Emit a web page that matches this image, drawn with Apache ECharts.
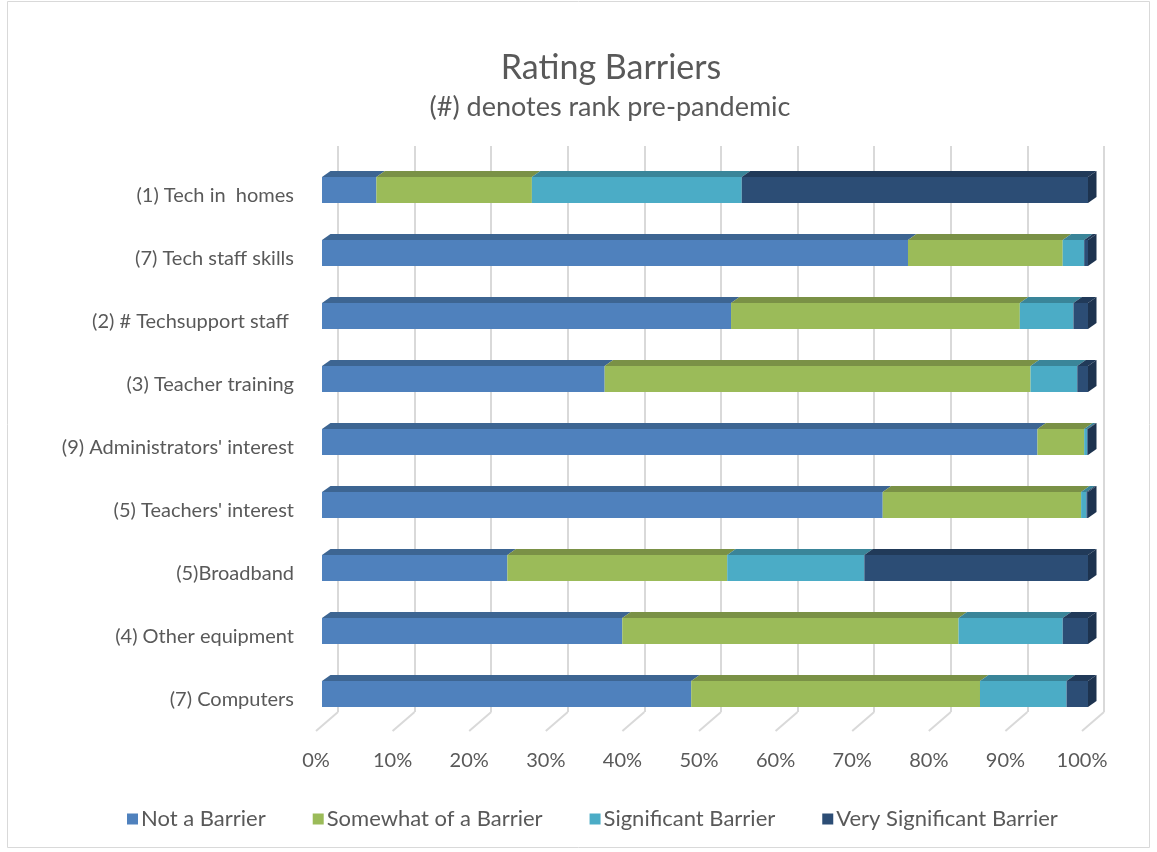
<!DOCTYPE html>
<html>
<head>
<meta charset="utf-8">
<script src="https://cdn.jsdelivr.net/npm/echarts@6/dist/echarts.min.js"></script>
<style>
  html, body { margin: 0; padding: 0; background: #fff; }
  #chart { width: 1157px; height: 852px; }
</style>
</head>
<body>
<div id="chart"></div>
<script>
// Barrier categories, top to bottom
const categories = [
  "(1) Tech in  homes",
  "(7) Tech staff skills",
  "(2) # Techsupport staff ",
  "(3) Teacher training",
  "(9) Administrators' interest",
  "(5) Teachers' interest",
  "(5)Broadband",
  "(4) Other equipment",
  "(7) Computers"
];

// Share of responses (%) for each rating
const notBarrier      = [7.1, 76.5, 53.4, 36.9, 93.4, 73.2, 24.2, 39.2, 48.2];
const somewhatBarrier = [20.3, 20.2, 37.7, 55.6, 6.1, 25.9, 28.7, 43.9, 37.7];
const significant     = [27.4, 2.8, 7.0, 6.1, 0.4, 0.7, 17.9, 13.6, 11.3];
const verySignificant = [45.2, 0.5, 1.9, 1.4, 0.1, 0.2, 29.2, 3.3, 2.8];

const seriesNames = ["Not a Barrier", "Somewhat of a Barrier", "Significant Barrier", "Very Significant Barrier"];
const seriesValues = [notBarrier, somewhatBarrier, significant, verySignificant];

// Front, top and side face colours for each rating
const faceColors = [
  { front: '#4f81bd', top: '#3d6592', side: '#34577f' },
  { front: '#9bbb59', top: '#7a9146', side: '#6a7f3d' },
  { front: '#4bacc6', top: '#3a8599', side: '#327385' },
  { front: '#2c4d75', top: '#213a59', side: '#1d334f' }
];

const tickValues = [0, 10, 20, 30, 40, 50, 60, 70, 80, 90, 100];

const FONT = 'Lato, "Open Sans", sans-serif';
const TEXT = '#595959';
const DEPTH_X = 8.5, DEPTH_Y = 6, FACE_H = 26, LIFT = 6;

// Stack each category's values into [category, start, end] spans
function spansFor(idx) {
  return categories.map((c, i) => {
    let start = 0;
    for (let k = 0; k < idx; k++) start += seriesValues[k][i];
    return [i, start, start + seriesValues[idx][i]];
  });
}

function barRenderer(idx) {
  const col = faceColors[idx];
  const isLast = idx === seriesValues.length - 1;
  return function (params, api) {
    const cat = api.value(0);
    const p0 = api.coord([api.value(1), cat]);
    const p1 = api.coord([api.value(2), cat]);
    const x0 = p0[0], x1 = p1[0];
    const yTop = p0[1] - LIFT - FACE_H / 2;
    const yBot = yTop + FACE_H;
    const children = [
      {
        type: 'polygon',
        shape: { points: [[x0, yTop], [x1, yTop], [x1 + DEPTH_X, yTop - DEPTH_Y], [x0 + DEPTH_X, yTop - DEPTH_Y]] },
        style: { fill: col.top }
      },
      {
        type: 'rect',
        shape: { x: x0, y: yTop, width: Math.max(x1 - x0, 0.5), height: FACE_H },
        style: { fill: col.front }
      }
    ];
    if (isLast) {
      children.push({
        type: 'polygon',
        shape: { points: [[x1, yTop], [x1 + DEPTH_X, yTop - DEPTH_Y], [x1 + DEPTH_X, yBot - DEPTH_Y], [x1, yBot]] },
        style: { fill: col.side }
      });
    }
    return { type: 'group', children: children };
  };
}

const barSeries = seriesNames.map((name, idx) => ({
  name: name,
  type: 'custom',
  xAxisIndex: 1,
  yAxisIndex: 1,
  renderItem: barRenderer(idx),
  encode: { x: [1, 2], y: 0 },
  itemStyle: { color: faceColors[idx].front },
  clip: false,
  z: 3 + idx,
  data: spansFor(idx)
}));

// Floor lines running from the back wall to the front edge
const floorSeries = {
  type: 'custom',
  xAxisIndex: 0,
  yAxisIndex: 0,
  silent: true,
  clip: false,
  z: 1,
  renderItem: function (params, api) {
    const cs = params.coordSys;
    const p = api.coord([api.value(0), 0]);
    const yb = cs.y + cs.height;
    return {
      type: 'line',
      shape: { x1: p[0], y1: yb, x2: p[0] - 22, y2: yb + 19 },
      style: { stroke: '#d9d9d9', lineWidth: 2 }
    };
  },
  data: tickValues.map(v => [v])
};

const chart = echarts.init(document.getElementById('chart'), null, { renderer: 'canvas' });

chart.setOption({
  backgroundColor: '#ffffff',
  animation: false,
  textStyle: { fontFamily: FONT },
  title: [
    {
      text: 'Rating Barriers',
      left: 606, top: 46, textAlign: 'center',
      textStyle: { fontFamily: FONT, fontSize: 34, fontWeight: 'normal', color: TEXT }
    },
    {
      text: '(#) denotes rank pre-pandemic',
      left: 605, top: 89, textAlign: 'center',
      textStyle: { fontFamily: FONT, fontSize: 27, fontWeight: 'normal', color: TEXT }
    }
  ],
  legend: {
    data: seriesNames,
    bottom: 22,
    left: 127,
    icon: 'rect',
    itemWidth: 11,
    itemHeight: 11,
    itemGap: 47,
    padding: 0,
    textStyle: { fontFamily: FONT, fontSize: 22, color: TEXT, padding: [0, 0, 0, -2] }
  },
  graphic: [
    {
      type: 'rect',
      shape: { x: 7.5, y: 1.5, width: 1142, height: 846 },
      style: { fill: null, stroke: '#d9d9d9', lineWidth: 1 },
      silent: true,
      z: -1
    }
  ],
  grid: [
    // back wall
    { left: 338, width: 766, top: 146, height: 566 },
    // bar fronts and category labels
    { left: 322, width: 766, top: 164.5, height: 567 },
    // floor front edge with value labels
    { left: 316, width: 766, top: 146, height: 585 }
  ],
  xAxis: [
    {
      gridIndex: 0, type: 'value', min: 0, max: 100, interval: 10,
      axisLine: { show: false }, axisTick: { show: false }, axisLabel: { show: false },
      splitLine: { show: true, lineStyle: { color: '#d9d9d9', width: 2 } }
    },
    {
      gridIndex: 1, type: 'value', min: 0, max: 100, interval: 10,
      axisLine: { show: false }, axisTick: { show: false }, axisLabel: { show: false },
      splitLine: { show: false }
    },
    {
      gridIndex: 2, type: 'value', min: 0, max: 100, interval: 10,
      axisLine: { show: false }, axisTick: { show: false },
      splitLine: { show: false },
      axisLabel: {
        margin: 20, fontFamily: FONT, fontSize: 20, color: TEXT,
        formatter: '{value}%'
      }
    }
  ],
  yAxis: [
    {
      gridIndex: 0, type: 'category', data: categories, inverse: true,
      axisLine: { show: false }, axisTick: { show: false }, axisLabel: { show: false },
      splitLine: { show: false }
    },
    {
      gridIndex: 1, type: 'category', data: categories, inverse: true,
      axisLine: { show: false }, axisTick: { show: false },
      axisLabel: { margin: 28, fontFamily: FONT, fontSize: 20, color: TEXT }
    },
    {
      gridIndex: 2, type: 'category', data: categories, inverse: true, show: false
    }
  ],
  series: [floorSeries].concat(barSeries)
});
</script>
</body>
</html>
